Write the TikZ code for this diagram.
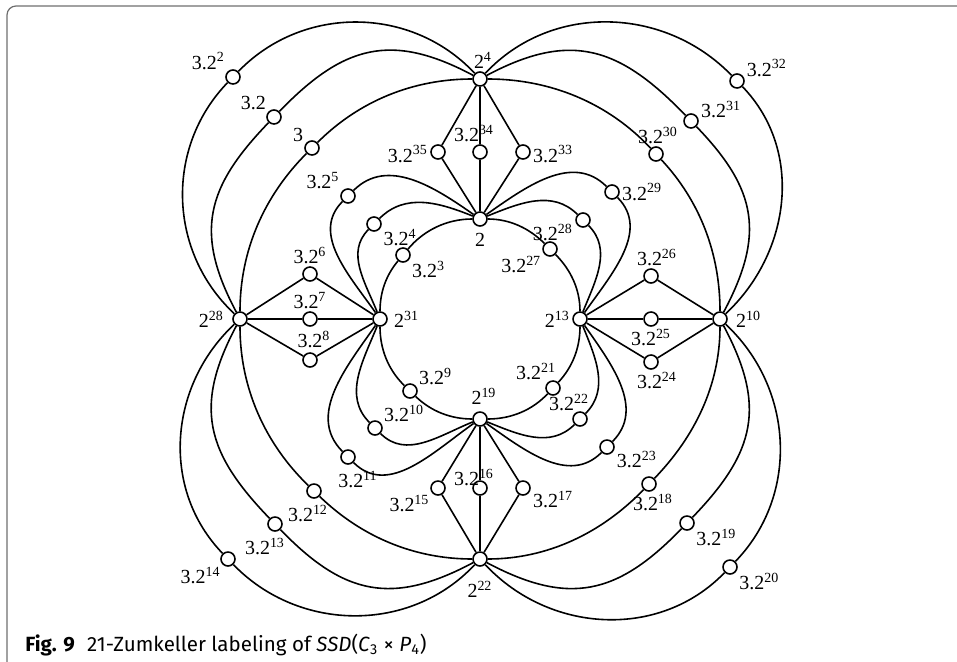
\documentclass[tikz,border=0pt]{standalone}
\usepackage{fontspec}
\setmainfont{Liberation Serif}
\newfontfamily\capfont{Fira Sans}
\definecolor{frameGray}{RGB}{110,110,110}

\begin{document}
\begin{tikzpicture}[x=1.76cm, y=1.76cm,
  vtx/.style={circle, draw, fill=white, line width=0.8pt,
              minimum size=7pt, inner sep=0pt},
  link/.style={line width=0.8pt},
  lbl/.style={font=\fontsize{10}{12}\selectfont, inner sep=1pt},
  captext/.style={font=\capfont\fontsize{10.3}{12}\selectfont, inner sep=0pt},
]
  \useasboundingbox (-4.80,-3.42) rectangle (4.77,3.19);
  \draw[frameGray, line width=0.6pt, rounded corners=4.5pt]
    (4.9,3.13) -- (-4.73,3.13) -- (-4.73,-3.52) -- (-4.4,-3.52);

  % powers of 2
  \node[vtx, label={[lbl,xshift=1.5pt]above:2\textsuperscript{4}}] (p4) at (0,2.4) {};
  \node[vtx, label={[lbl,label distance=2pt]below:2}] (p1) at (0,1) {};
  \node[vtx, label={[lbl,label distance=2pt]right:2\textsuperscript{31}}] (p31) at (-1,0) {};
  \node[vtx, label={[lbl]left:2\textsuperscript{13}}] (p13) at (1,0) {};
  \node[vtx, label={[lbl,xshift=2pt,label distance=2pt]above:2\textsuperscript{19}}] (p19) at (0,-1) {};
  \node[vtx, label={[lbl,label distance=6pt]below:2\textsuperscript{22}}] (p22) at (0,-2.4) {};
  \node[vtx, label={[lbl,label distance=3pt]left:2\textsuperscript{28}}] (p28) at (-2.4,0) {};
  \node[vtx, label={[lbl,label distance=3pt]right:2\textsuperscript{10}}] (p10) at (2.4,0) {};

  % 3 times powers of 2
  \node[vtx, label={[lbl]146:3}] (q0) at (-1.68,1.71) {};
  \node[vtx, label={[lbl]138:3.2}] (q1) at (-2.06,2.02) {};
  \node[vtx, label={[lbl]138:3.2\textsuperscript{2}}] (q2) at (-2.47,2.42) {};
  \node[vtx, label={[lbl]-31:3.2\textsuperscript{3}}] (q3) at (-0.77,0.64) {};
  \node[vtx, label={[lbl]-20:3.2\textsuperscript{4}}] (q4) at (-1.06,0.95) {};
  \node[vtx, label={[lbl]142:3.2\textsuperscript{5}}] (q5) at (-1.32,1.23) {};
  \node[vtx, label={[lbl]above:3.2\textsuperscript{6}}] (q6) at (-1.70,0.45) {};
  \node[vtx, label={[lbl]above:3.2\textsuperscript{7}}] (q7) at (-1.70,0) {};
  \node[vtx, label={[lbl,xshift=2pt,label distance=1pt]above:3.2\textsuperscript{8}}] (q8) at (-1.70,-0.41) {};
  \node[vtx, label={[lbl]30:3.2\textsuperscript{9}}] (q9) at (-0.70,-0.72) {};
  \node[vtx, label={[lbl]30:3.2\textsuperscript{10}}] (q10) at (-1.05,-1.09) {};
  \node[vtx, label={[lbl,xshift=5pt,label distance=2pt]below:3.2\textsuperscript{11}}] (q11) at (-1.32,-1.38) {};
  \node[vtx, label={[lbl,xshift=-3pt,label distance=2pt]below:3.2\textsuperscript{12}}] (q12) at (-1.66,-1.72) {};
  \node[vtx, label={[lbl,xshift=-5pt,label distance=2pt]below:3.2\textsuperscript{13}}] (q13) at (-2.05,-2.05) {};
  \node[vtx, label={[lbl]230:3.2\textsuperscript{14}}] (q14) at (-2.52,-2.40) {};
  \node[vtx, label={[lbl]218:3.2\textsuperscript{15}}] (q15) at (-0.42,-1.69) {};
  \node[vtx, label={[lbl,xshift=-3pt,label distance=-4pt]above:3.2\textsuperscript{16}}] (q16) at (0,-1.69) {};
  \node[vtx, label={[lbl]-4:3.2\textsuperscript{17}}] (q17) at (0.43,-1.69) {};
  \node[vtx, label={[lbl,xshift=2pt]below:3.2\textsuperscript{18}}] (q18) at (1.69,-1.65) {};
  \node[vtx, label={[lbl]-27:3.2\textsuperscript{19}}] (q19) at (2.07,-2.04) {};
  \node[vtx, label={[lbl]-26:3.2\textsuperscript{20}}] (q20) at (2.50,-2.48) {};
  \node[vtx, label={[lbl,xshift=-8.5pt,label distance=-1pt]above:3.2\textsuperscript{21}}] (q21) at (0.73,-0.69) {};
  \node[vtx, label={[lbl,xshift=-5.5pt,label distance=-1pt]above:3.2\textsuperscript{22}}] (q22) at (1.00,-1.00) {};
  \node[vtx, label={[lbl]-15:3.2\textsuperscript{23}}] (q23) at (1.27,-1.28) {};
  \node[vtx, label={[lbl,xshift=3pt]below:3.2\textsuperscript{24}}] (q24) at (1.71,-0.43) {};
  \node[vtx, label={[lbl]below:3.2\textsuperscript{25}}] (q25) at (1.71,0) {};
  \node[vtx, label={[lbl,xshift=3pt]above:3.2\textsuperscript{26}}] (q26) at (1.71,0.43) {};
  \node[vtx, label={[lbl]215:3.2\textsuperscript{27}}] (q27) at (0.70,0.70) {};
  \node[vtx, label={[lbl]190:3.2\textsuperscript{28}}] (q28) at (1.03,0.99) {};
  \node[vtx, label={[lbl]right:3.2\textsuperscript{29}}] (q29) at (1.32,1.27) {};
  \node[vtx, label={[lbl,xshift=1pt]above:3.2\textsuperscript{30}}] (q30) at (1.76,1.65) {};
  \node[vtx, label={[lbl]7:3.2\textsuperscript{31}}] (q31) at (2.11,1.98) {};
  \node[vtx, label={[lbl]17:3.2\textsuperscript{32}}] (q32) at (2.57,2.38) {};
  \node[vtx, label={[lbl,yshift=-1pt]right:3.2\textsuperscript{33}}] (q33) at (0.43,1.67) {};
  \node[vtx, label={[lbl,xshift=-3pt]above:3.2\textsuperscript{34}}] (q34) at (0,1.67) {};
  \node[vtx, label={[lbl,yshift=-1pt]left:3.2\textsuperscript{35}}] (q35) at (-0.42,1.67) {};

  % inner circle
  \draw[link, looseness=0.9] (p1) to[out=180,in=50] (q3) to[out=230,in=90] (p31);
  \draw[link, looseness=0.9] (p1) to[out=0,in=135] (q27) to[out=-45,in=90] (p13);
  \draw[link, looseness=0.9] (p19) to[out=180,in=-44] (q9) to[out=136,in=-90] (p31);
  \draw[link, looseness=0.9] (p19) to[out=0,in=227] (q21) to[out=47,in=-90] (p13);

  % petals
  \draw[link] (p1) to[out=158,in=45] (q4) to[out=225,in=112] (p31);
  \draw[link] (p1) to[out=145,in=45] (q5) to[out=225,in=125] (p31);
  \draw[link] (p1) to[out=22,in=135] (q28) to[out=-45,in=68] (p13);
  \draw[link] (p1) to[out=35,in=135] (q29) to[out=-45,in=55] (p13);
  \draw[link] (p19) to[out=202,in=-45] (q10) to[out=135,in=248] (p31);
  \draw[link] (p19) to[out=215,in=-45] (q11) to[out=135,in=235] (p31);
  \draw[link] (p19) to[out=-22,in=225] (q22) to[out=45,in=292] (p13);
  \draw[link] (p19) to[out=-35,in=225] (q23) to[out=45,in=305] (p13);

  % diamonds
  \foreach \a/\m/\b in {p1/q35/p4, p1/q34/p4, p1/q33/p4,
                        p31/q6/p28, p31/q7/p28, p31/q8/p28,
                        p13/q26/p10, p13/q25/p10, p13/q24/p10,
                        p19/q15/p22, p19/q16/p22, p19/q17/p22}
    \draw[link] (\a) -- (\m) -- (\b);

  % big circle
  \draw[link, looseness=0.9] (p4) to[out=180,in=45] (q0) to[out=225,in=90] (p28);
  \draw[link, looseness=0.9] (p4) to[out=0,in=133] (q30) to[out=-47,in=90] (p10);
  \draw[link, looseness=0.9] (p22) to[out=180,in=-44] (q12) to[out=136,in=-90] (p28);
  \draw[link, looseness=0.9] (p22) to[out=0,in=226] (q18) to[out=46,in=-90] (p10);

  % middle ring
  \draw[link, looseness=1.2] (p4) to[out=152,in=46] (q1) to[out=226,in=118] (p28);
  \draw[link, looseness=1.2] (p4) to[out=28,in=134] (q31) to[out=-46,in=62] (p10);
  \draw[link, looseness=1.2] (p22) to[out=208,in=-46] (q13) to[out=134,in=242] (p28);
  \draw[link, looseness=1.2] (p22) to[out=-28,in=226] (q19) to[out=46,in=298] (p10);

  % outer ring
  \draw[link] (p4) to[out=133,in=46] (q2) to[out=226,in=137] (p28);
  \draw[link] (p4) to[out=47,in=134] (q32) to[out=-46,in=43] (p10);
  \draw[link] (p22) to[out=227,in=-46] (q14) to[out=134,in=223] (p28);
  \draw[link] (p22) to[out=-47,in=226] (q20) to[out=46,in=-43] (p10);

  \node[captext, anchor=base west] (caption) at (-4.55,-3.325)
    {\textbf{Fig. 9}\hspace{0.6em}21-Zumkeller labeling of
     \textit{SSD}(\textit{C}\textsubscript{3} × \textit{P}\textsubscript{4})};
\end{tikzpicture}
\end{document}
